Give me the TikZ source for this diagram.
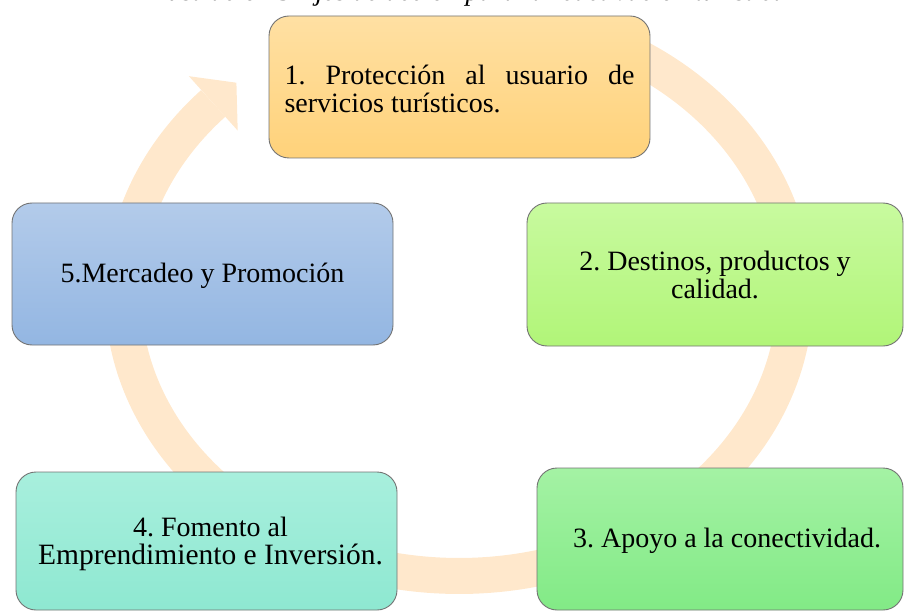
\documentclass[tikz,border=0pt]{standalone}
\usepackage{fontspec}
\setmainfont{LiberationSerif}[Extension=.ttf, UprightFont=*-Regular, ItalicFont=*-Italic, BoldFont=*-Bold, BoldItalicFont=*-BoldItalic]
\definecolor{ringc}{HTML}{FFE8CC}
\definecolor{aTop}{HTML}{FFE0A3}
\definecolor{aBot}{HTML}{FFD27A}
\definecolor{bTop}{HTML}{C8FA9F}
\definecolor{bBot}{HTML}{B1F578}
\definecolor{cTop}{HTML}{A4F2A4}
\definecolor{cBot}{HTML}{82EA86}
\definecolor{dTop}{HTML}{A8EFDD}
\definecolor{dBot}{HTML}{8EE8D1}
\definecolor{eTop}{HTML}{B3CBEA}
\definecolor{eBot}{HTML}{93B6E2}
\frenchspacing
\begin{document}
\begin{tikzpicture}[x=1pt,y=-1pt,
  box/.style={draw=black!55, line width=0.9pt, rounded corners=20pt, inner sep=0pt},
  txt/.style={inner sep=0pt, font=\fontsize{28}{28}\selectfont, align=center},
  ring/.style={ringc, line width=36pt}]
\useasboundingbox (0,0) rectangle (904,612);
% caption, clipped by the page top
\node[anchor=base west, inner sep=0pt, font=\fontsize{27.4}{28}\selectfont\itshape] (title) at (151,0.8)
  {Ilustración 5 Ejes de acción para la reactivación turística};
% circular arrow
\draw[ring] plot[domain=300:583, samples=240] ({459+336*cos(\x)},{295+281*sin(\x)});
\fill[ringc] (188.9,76.2) -- (236.4,82.7) -- (237.7,130.6) -- cycle;
% boxes
\node[box, top color=aTop, bottom color=aBot, minimum width=381pt, minimum height=142pt] (b1) at (459.5,87) {};
\node[box, top color=bTop, bottom color=bBot, minimum width=376pt, minimum height=143pt] (b2) at (715,274.5) {};
\node[box, top color=cTop, bottom color=cBot, minimum width=366pt, minimum height=142pt] (b3) at (720,539) {};
\node[box, top color=dTop, bottom color=dBot, minimum width=381pt, minimum height=138pt] (b4) at (206.5,541) {};
\node[box, top color=eTop, bottom color=eBot, minimum width=381pt, minimum height=142pt] (b5) at (202.5,274) {};
% texts
\node[txt] (t1) at ([yshift=-1.5pt]b1.center)
  {\makebox[350pt][s]{1. Protección al usuario de}\\\makebox[350pt][l]{servicios turísticos.}};
\node[txt] (t2) at (b2.center) {2. Destinos, productos y\\calidad.};
\node[txt] (t3) at ([xshift=7pt,yshift=-2pt]b3.center) {3. Apoyo a la conectividad.};
\node[txt] (t4) at ([xshift=4pt,yshift=-3pt]b4.center)
  {4. Fomento al\\{\fontsize{29.5}{28}\selectfont Emprendimiento e Inversión.}};
\node[txt] (t5) at ([yshift=-1.5pt]b5.center) {5.Mercadeo y Promoción};
\end{tikzpicture}
\end{document}
